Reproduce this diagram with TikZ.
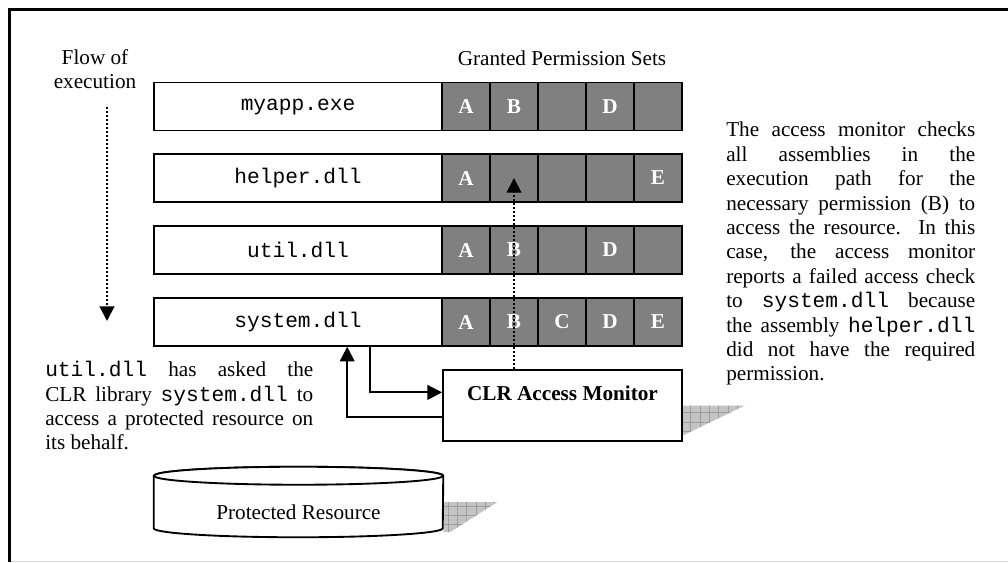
\documentclass[tikz,border=0pt]{standalone}
\usepackage{fontspec}
\setmainfont{Liberation Serif}
\setmonofont{Liberation Mono}
\usepackage{tikz}
\usetikzlibrary{positioning,calc,arrows.meta,patterns.meta,backgrounds}
\definecolor{ink}      {HTML}{000000}
\definecolor{permgray} {HTML}{808080}
\definecolor{shadegray}{HTML}{C4C4C4}
\definecolor{gridgray} {HTML}{9C9C9C}
\definecolor{edgegray} {HTML}{DADADA}
\newcommand{\docfont}{\fontsize{15.9pt}{18.3pt}\selectfont}
\tikzset{
  every node/.style={font=\docfont},
  % --- nodes
  asm/.style     = {draw=ink, line width=1.1pt, fill=white, inner sep=0pt,
                    minimum width=216pt, minimum height=36pt, font=\docfont\ttfamily},
  perm/.style    = {draw=ink, line width=0.9pt, fill=permgray, inner sep=0pt,
                    minimum width=36pt, minimum height=36pt, text=white,
                    font=\docfont\bfseries},
  monitor/.style = {draw=ink, line width=1.4pt, fill=white, inner sep=0pt,
                    minimum width=179.25pt, minimum height=53.25pt,
                    text height=10pt, text depth=18.25pt, font=\docfont\bfseries},
  res/.style     = {inner sep=0pt, minimum width=216.75pt, minimum height=39pt,
                    text height=26pt, text depth=0.5pt},
  note/.style    = {align=justify, inner sep=0pt, anchor=north west},
  lbl/.style     = {align=center, inner sep=0pt},
  % --- edges
  e/.style       = {-{Triangle[width=11pt,length=11pt]}, line width=1.5pt, draw=ink},
  dotflow/.style = {e, dash pattern=on 1.5pt off 1.5pt},
  cyl/.style     = {draw=ink, line width=1.4pt, fill=white},
  shade/.style   = {preaction={fill=shadegray},
                    pattern={Hatch[angle=0,distance=7pt,line width=0.4pt]},
                    pattern color=gridgray},
  frame/.style   = {draw=ink, line width=2.25pt},
}

\begin{document}
\begin{tikzpicture}[x=0.75pt, y=-0.75pt]
  \useasboundingbox (0,0) rectangle (1008,562);
  \draw[frame] (9,562) -- (9,9) -- (1008,9);
  \draw[edgegray, line width=0.8pt] (11,561.5) -- (1008,561.5);

  \node[lbl] (flow) at (95,69) {Flow of\\execution};
  \node[lbl] (granted) at (562,58) {Granted Permission Sets};

  \foreach \rowid/\fname/\yy/\perms in {exe/myapp.exe/106.5/{A,B,{},D,{}},
      helper/helper.dll/178/{A,{},{},{},E}, util/util.dll/250/{A,B,{},D,{}},
      system/system.dll/322/{A,B,C,D,E}} {
    \node[asm] (\rowid) at (298,\yy) {\fname};
    \foreach \p [count=\i] in \perms
      \node[perm] (\rowid-\i) at (418+48*\i,\yy) {\p};
  }

  \node[monitor] (mon) at (562.5,405.5) {CLR Access Monitor};
  \node[res] (res) at (298.5,502) {Protected Resource};

  \node[note, text width=201pt] (ask) at (45,361)
    {\texttt{util.dll} has asked the\linebreak CLR library \texttt{system.dll} to\linebreak
     access a protected resource on\linebreak its behalf.};
  \node[note, text width=186.75pt] (check) at (726,122)
    {The access monitor checks\linebreak all assemblies in the\linebreak
     execution path for the\linebreak necessary permission (B) to\linebreak
     access the resource.\ \ In this\linebreak case, the access monitor\linebreak
     reports a failed access check\linebreak to \texttt{system.dll} because\linebreak
     the assembly \texttt{helper.dll}\linebreak did not have the required\linebreak
     permission.};

  \begin{scope}[on background layer]
    \path[shade] (mon.east) -- ++(62,0) -- ++(-62,30) -- cycle;
    \path[shade] (res.east) -- ++(54,0) -- ++(-47,30) -- ++(-7,0) -- cycle;
    \draw[cyl] (res.north west) -- (res.south west)
      arc[start angle=180, end angle=360, x radius=108.375pt, y radius=6.75pt]
      -- (res.north east)
      arc[start angle=0, end angle=180, x radius=108.375pt, y radius=6.75pt] -- cycle;
    \draw[cyl] (res.north) ellipse[x radius=108.375pt, y radius=6.75pt];
  \end{scope}

  \coordinate (flowtop) at (107,107);
  \coordinate (flowend) at (107,321);
  \draw[dotflow] (flowtop) -- (flowend);
  \draw[dotflow] (mon.north -| helper-2) -- (helper-2.center);
  \draw[e] ($(system.south west)!.75!(system.south east)$) |- ($(mon.north west)!.32!(mon.south west)$);
  \draw[e] ($(mon.north west)!.66!(mon.south west)$) -| ($(system.south west)!.67!(system.south east)$);
\end{tikzpicture}
\end{document}
